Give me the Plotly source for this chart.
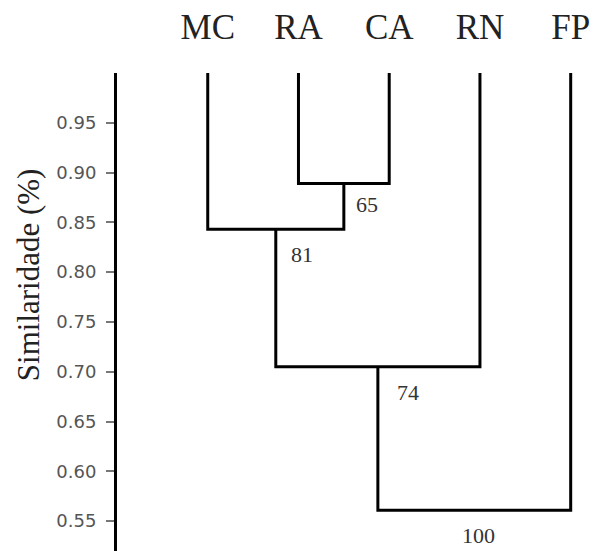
import plotly.graph_objects as go

# ---- data ----
leaves = ["MC", "RA", "CA", "RN", "FP"]
leaf_height = 1.0
merge_a = ["RA", "MC", "N2", "N3"]
merge_b = ["CA", "N1", "RN", "FP"]
merge_height = [0.889, 0.843, 0.705, 0.561]
support = [65, 81, 74, 100]
y_ticks = [0.55, 0.60, 0.65, 0.70, 0.75, 0.80, 0.85, 0.90, 0.95]

# label offsets (pixels) relative to each merge node
label_dx = [23, 26, 30, 4]
label_dy = [-21, -25, -26, -25]

# ---- build dendrogram paths ----
pos = {name: (i + 1, leaf_height) for i, name in enumerate(leaves)}
xs, ys = [], []
nodes = []
for k, (a, b, h) in enumerate(zip(merge_a, merge_b, merge_height)):
    xa, ya = pos[a]
    xb, yb = pos[b]
    xs += [xa, xa, xb, xb, None]
    ys += [ya, h, h, yb, None]
    node = ((xa + xb) / 2, h)
    pos[f"N{k+1}"] = node
    nodes.append(node)

fig = go.Figure()
fig.add_trace(go.Scatter(x=xs, y=ys, mode="lines",
                         line=dict(color="black", width=3),
                         hoverinfo="skip", showlegend=False))

for (nx, ny), s, dx, dy in zip(nodes, support, label_dx, label_dy):
    fig.add_annotation(x=nx, y=ny, text=str(s), showarrow=False,
                       xshift=dx, yshift=dy, xanchor="center", yanchor="middle",
                       font=dict(family="Liberation Serif", size=22, color="#333"))

fig.add_annotation(xref="paper", yref="paper", x=0, y=0.577, xshift=-89,
                   text="Similaridade (%)", textangle=-90, showarrow=False,
                   xanchor="center", yanchor="middle",
                   font=dict(family="Liberation Serif", size=31, color="#222"))

fig.update_layout(
    template="none",
    width=597, height=551,
    margin=dict(l=117, r=0, t=73, b=0, pad=0),
    paper_bgcolor="white", plot_bgcolor="white",
    xaxis=dict(range=[0, 5.29], side="top", tickmode="array",
               tickvals=list(range(1, len(leaves) + 1)), ticktext=leaves,
               showline=False, showgrid=False, zeroline=False, ticks="",
               ticklabelstandoff=26, automargin=False,
               tickfont=dict(family="Liberation Serif", size=35, color="#222")),
    yaxis=dict(range=[0.52, 1.0], tickmode="array", tickvals=y_ticks,
               tickformat=".2f", showline=True, linecolor="black", linewidth=3,
               ticks="outside", ticklen=8, tickwidth=2, tickcolor="#777",
               showgrid=False, zeroline=False, automargin=False,
               ticklabelstandoff=6,
               tickfont=dict(family="DejaVu Sans", size=18, color="#555")),
)

fig.write_html("out.html")
